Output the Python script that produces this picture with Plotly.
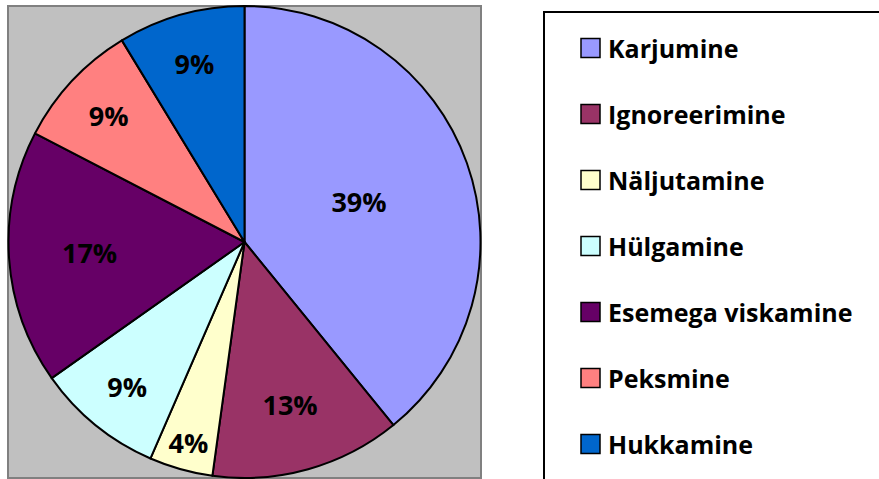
import plotly.graph_objects as go

labels = ["Karjumine", "Ignoreerimine", "Näljutamine", "Hülgamine",
          "Esemega viskamine", "Peksmine", "Hukkamine"]
counts = [9, 3, 1, 2, 4, 2, 2]
colors = ["#9999FF", "#993366", "#FFFFCC", "#CCFFFF", "#660066", "#FF8080", "#0066CC"]

W, H = 879, 479
FONT = "Open Sans"
FS = 25
PFS = 27

fig = go.Figure()
fig.add_trace(go.Pie(
    labels=labels, values=counts, sort=False, direction="clockwise", rotation=0,
    marker=dict(colors=colors, line=dict(color="black", width=2)),
    texttemplate="%{percent:.0%}", textposition="inside",
    insidetextorientation="horizontal",
    textfont=dict(family=FONT, size=PFS, color="black", weight="bold"),
    domain=dict(x=[8 / W, 481 / W], y=[1 - 478 / H, 1 - 6 / H]),
    showlegend=False, hoverinfo="label+percent",
))

shapes = [
    # plot area background
    dict(type="rect", xref="paper", yref="paper", x0=8 / W, x1=481 / W,
         y0=1 - 478 / H, y1=1 - 6 / H, fillcolor="#C0C0C0",
         line=dict(color="#808080", width=2), layer="below"),
    # legend box
    dict(type="rect", xref="paper", yref="paper", x0=544 / W, x1=1.05,
         y0=-0.05, y1=1 - 12 / H, fillcolor="white",
         line=dict(color="black", width=2), layer="below"),
]
annotations = []
for i, (lab, col) in enumerate(zip(labels, colors)):
    yc = 48 + 66 * i
    shapes.append(dict(type="rect", xref="paper", yref="paper",
                       x0=581 / W, x1=600 / W, y0=1 - (yc + 9.5) / H, y1=1 - (yc - 9.5) / H,
                       fillcolor=col, line=dict(color="black", width=1.5)))
    annotations.append(dict(xref="paper", yref="paper", x=606 / W, y=1 - yc / H,
                            text=lab, showarrow=False, xanchor="left", yanchor="middle",
                            font=dict(family=FONT, size=FS, color="black", weight="bold")))

fig.update_layout(
    width=W, height=H, margin=dict(l=0, r=0, t=0, b=0),
    paper_bgcolor="white", plot_bgcolor="white",
    shapes=shapes, annotations=annotations,
    uniformtext=dict(minsize=PFS, mode="show"),
)
fig.write_html("out.html", config={"displayModeBar": False},
               post_script="document.body.style.margin='0';")
